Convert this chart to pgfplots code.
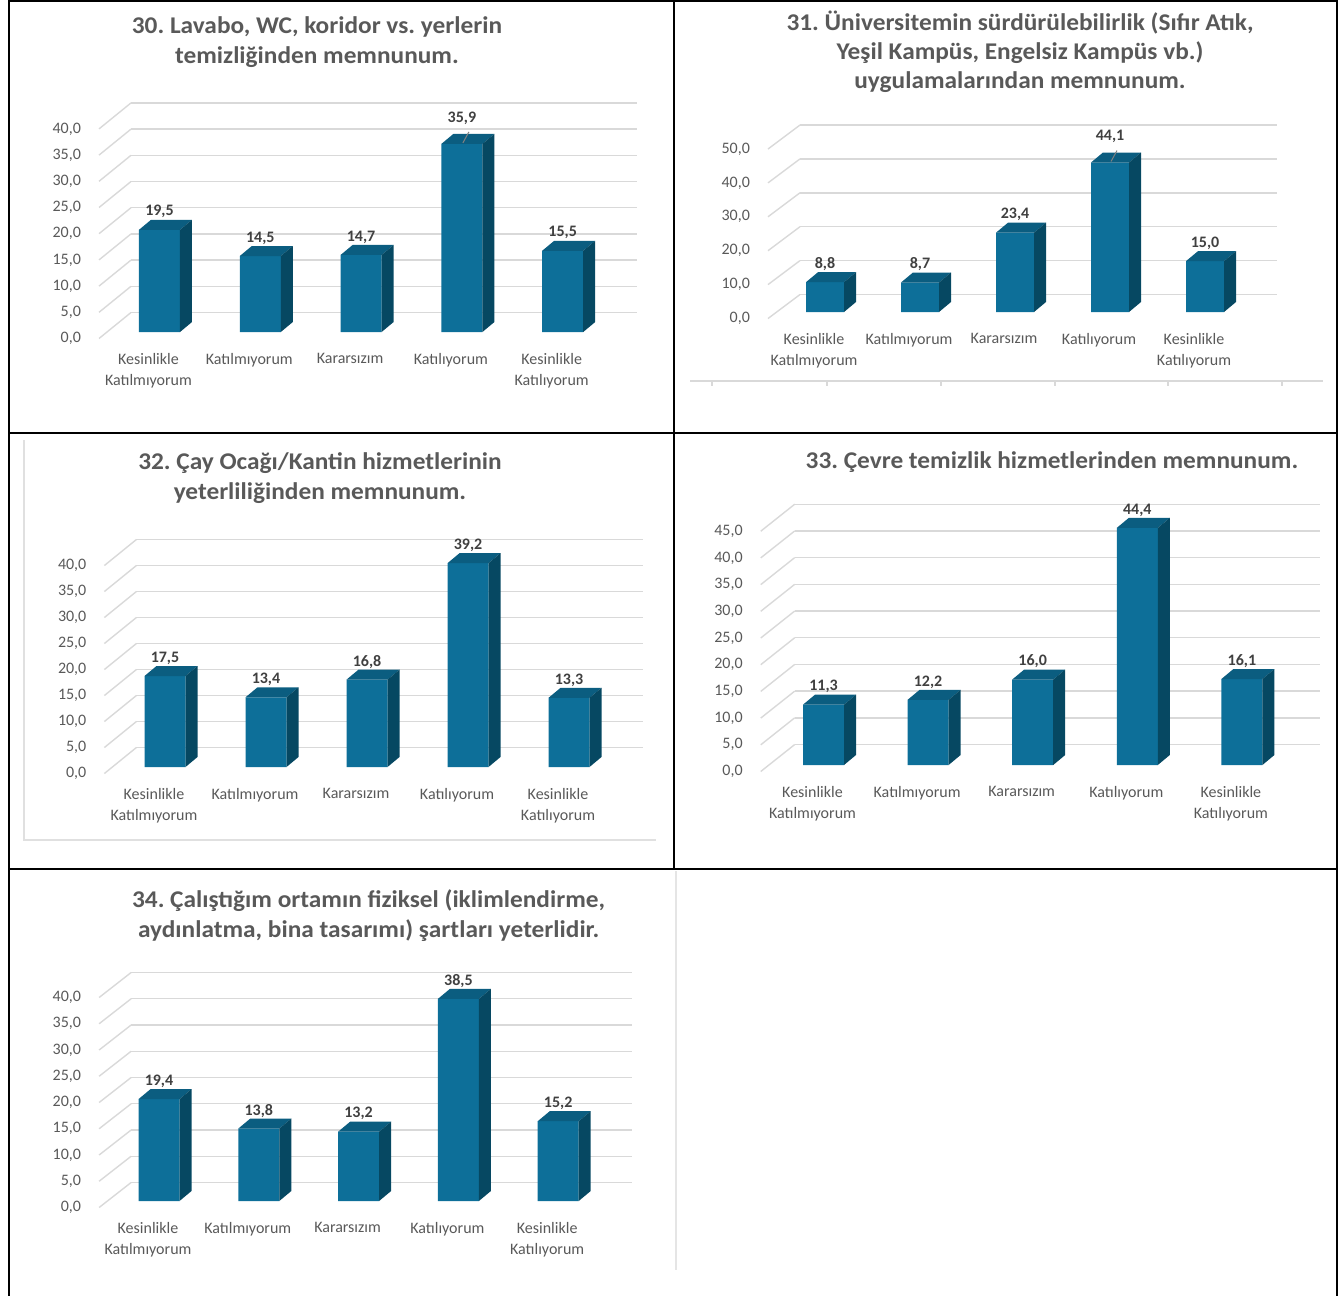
\documentclass[border=0pt]{standalone}
\usepackage{pgfplots}
\pgfplotsset{compat=1.18}
\usepackage{pgfplotstable}
\usepackage{fontspec}
\setmainfont{Carlito}
\newfontfamily\titlefont[FakeStretch=1.055]{Carlito}
\frenchspacing

\definecolor{barfront}{HTML}{0D6F99}
\definecolor{bartop}{HTML}{0B5D80}
\definecolor{barside}{HTML}{064862}
\definecolor{txtgray}{HTML}{595959}
\definecolor{valgray}{HTML}{404040}
\definecolor{wallgray}{HTML}{D9D9D9}

% survey answers, percent
\pgfplotstableread{
x y o
0 19.5 9
1 14.5 9
2 14.7 9
3 35.9 13
4 15.5 9
}\dataA
\pgfplotstableread{
x y o
0 8.8 9
1 8.7 9
2 23.4 9
3 44.1 13
4 15.0 9
}\dataB
\pgfplotstableread{
x y o
0 17.5 9
1 13.4 9
2 16.8 9
3 39.2 9
4 13.3 9
}\dataC
\pgfplotstableread{
x y o
0 11.3 9
1 12.2 9
2 16.0 9
3 44.4 9
4 16.1 9
}\dataD
\pgfplotstableread{
x y o
0 19.4 9
1 13.8 9
2 13.2 9
3 38.5 9
4 15.2 9
}\dataE

% 3d look: half bar width, depth, wall depth, floor offset, y unit
\def\bw{10.25pt}\def\barw{20.5pt}
\def\dpx{6pt}\def\dpy{5pt}
\def\wdx{16pt}\def\wdy{13pt}
\def\fshift{3.25pt}
\def\yu{2.62pt}

% top and side faces of a bar, drawn at the bar's top
\pgfdeclareplotmark{barcube}{%
  \pgfmathsetlengthmacro\cubeH{\barval*\yu}%
  \pgfpathmoveto{\pgfpoint{-\bw}{0pt}}%
  \pgfpathlineto{\pgfpoint{\bw}{0pt}}%
  \pgfpathlineto{\pgfpoint{\bw+\dpx}{\dpy}}%
  \pgfpathlineto{\pgfpoint{-\bw+\dpx}{\dpy}}%
  \pgfpathclose
  \pgfsetfillcolor{bartop}\pgfusepath{fill}%
  \pgfpathmoveto{\pgfpoint{\bw}{0pt}}%
  \pgfpathlineto{\pgfpoint{\bw+\dpx}{\dpy}}%
  \pgfpathlineto{\pgfpoint{\bw+\dpx}{\dpy-\cubeH}}%
  \pgfpathlineto{\pgfpoint{\bw}{-\cubeH}}%
  \pgfpathclose
  \pgfsetfillcolor{barside}\pgfusepath{fill}%
  \ifdim\lo pt>10pt
    \pgfpathmoveto{\pgfpoint{0.5pt}{0.5pt}}%
    \pgfpathlineto{\pgfpoint{3.5pt}{6pt}}%
    \pgfsetstrokecolor{gray}\pgfsetlinewidth{0.5pt}\pgfusepath{stroke}%
  \fi
}

\newcommand\walls[1]{\pgfplotsinvokeforeach{#1}{%
  \draw[wallgray, line width=0.7pt] (axis cs:-0.6,##1) ++(0pt,-\fshift) -- ++(\wdx,\wdy);
  \draw[wallgray, line width=0.7pt, xshift=\wdx, yshift=\wdy-\fshift]
    (axis cs:-0.6,##1) -- (axis cs:4.42,##1);}}

\newcommand\cubes[1]{%
  \addplot[ybar, bar width=\barw, bar shift=0pt, fill=barfront, draw=none]
    table[x=x, y=y]{#1};
  \addplot[only marks, mark=barcube, point meta=\thisrow{y},
    visualization depends on={\thisrow{y} \as \barval},
    visualization depends on={\thisrow{o} \as \lo},
    nodes near coords={\pgfmathprintnumber[fixed, fixed zerofill, precision=1, use comma]{\pgfplotspointmeta}},
    every node near coord/.append style={anchor=center, yshift=\lo*1pt,
      font=\bfseries\fontsize{8}{9}\selectfont, text=valgray}]
    table[x=x, y=y]{#1};
}

\pgfplotsset{
  cubeaxis/.style={
    anchor=origin, clip=false, enlargelimits=false,
    xmin=-0.6, xmax=4.42, ymin=0,
    axis line style={draw=none}, major tick length=0pt,
    /pgf/number format/assume math mode=true,
    tick label style={font=\fontsize{8}{10.5}\selectfont, text=txtgray},
    yticklabel style={/pgf/number format/fixed, /pgf/number format/fixed zerofill,
      /pgf/number format/precision=1, /pgf/number format/use comma,
      xshift=-5.5pt, yshift=-\fshift},
    xtick={0,...,4},
    xticklabels={{Kesinlikle\\Katılmıyorum},Katılmıyorum,Kararsızım,Katılıyorum,{Kesinlikle\\Katılıyorum}},
    xticklabel style={align=center, anchor=north, xshift=-5.5pt, yshift=-7pt},
  },
}

\begin{document}
\begin{tikzpicture}
\tikzset{ttl/.style={font=\titlefont\bfseries\fontsize{12}{15}\selectfont, text=txtgray, align=center}}

% 30
\def\yu{2.62pt}
\begin{axis}[cubeaxis, at={(79.75pt,-166pt)}, x=50.4pt, y=2.62pt, ymax=40, ytick={0,5,...,40}]
\walls{0,5,...,40}
\cubes{\dataA}
\end{axis}
\node[ttl] at (158.5pt,-21pt) {30. Lavabo, WC, koridor vs. yerlerin\\temizliğinden memnunum.};

% 31
\def\yu{1.695pt}\def\bw{9.5pt}\def\barw{19pt}\def\wdy{12pt}
\begin{axis}[cubeaxis, at={(412.5pt,-156pt)}, x=47.5pt, y=1.695pt, ymax=50, ytick={0,10,...,50}]
\walls{0,10,...,50}
\cubes{\dataB}
\end{axis}
\node[ttl, font=\titlefont\bfseries\fontsize{12}{14.5}\selectfont] at (510pt,-26pt)
  {31. Üniversitemin sürdürülebilirlik (Sıfır Atık,\\Yeşil Kampüs, Engelsiz Kampüs vb.)\\uygulamalarından memnunum.};

% 32
\def\yu{2.6pt}\def\bw{10.25pt}\def\barw{20.5pt}\def\wdy{13pt}
\begin{axis}[cubeaxis, at={(82.5pt,-383.5pt)}, x=50.5pt, y=2.6pt, ymax=40, ytick={0,5,...,40}]
\walls{0,5,...,40}
\cubes{\dataC}
\end{axis}
\node[ttl] at (160pt,-239pt) {32. Çay Ocağı/Kantin hizmetlerinin\\yeterliliğinden memnunum.};

% 33
\def\yu{2.67pt}\def\wdx{17pt}\def\wdy{13.5pt}
\begin{axis}[cubeaxis, at={(411.75pt,-382.5pt)}, x=52.3pt, y=2.67pt, ymax=45, ytick={0,5,...,45}]
\walls{0,5,...,45}
\cubes{\dataD}
\end{axis}
\node[ttl] at (526pt,-231pt) {33. Çevre temizlik hizmetlerinden memnunum.};

% 34
\def\yu{2.625pt}\def\wdx{16pt}\def\wdy{12.5pt}
\begin{axis}[cubeaxis, at={(79.5pt,-600.5pt)}, x=49.9pt, y=2.625pt, ymax=40, ytick={0,5,...,40}]
\walls{0,5,...,40}
\cubes{\dataE}
\end{axis}
\node[ttl] at (184.3pt,-458pt) {34. Çalıştığım ortamın fiziksel (iklimlendirme,\\aydınlatma, bina tasarımı) şartları yeterlidir.};

% faint chart frames
\draw[wallgray, line width=0.8pt] (345pt,-190.5pt) -- (661.5pt,-190.5pt);
\foreach \t in {356,413.5,470.5,527.5,584,641} \draw[wallgray, line width=0.6pt] (\t pt,-190.5pt) -- ++(0,-2.5pt);
\draw[black!12, line width=0.8pt] (12pt,-220pt) -- (12pt,-420pt) -- (328pt,-420pt);
\draw[black!10, line width=1.2pt] (338pt,-435.5pt) -- (338pt,-635pt);

% table borders
\draw[black, line width=1pt] (4.25pt,0pt) -- (4.25pt,-648pt);
\draw[black, line width=1pt] (668.5pt,0pt) -- (668.5pt,-648pt);
\draw[black, line width=1pt] (4.25pt,-0.5pt) -- (668.5pt,-0.5pt);
\draw[black, line width=1pt] (336.75pt,0pt) -- (336.75pt,-434.25pt);
\draw[black, line width=1pt] (4.25pt,-216.5pt) -- (668.5pt,-216.5pt);
\draw[black, line width=1pt] (4.25pt,-434.25pt) -- (668.5pt,-434.25pt);

\pgfresetboundingbox
\path[use as bounding box] (0pt,0pt) rectangle (670.5pt,-648pt);
\end{tikzpicture}
\end{document}
